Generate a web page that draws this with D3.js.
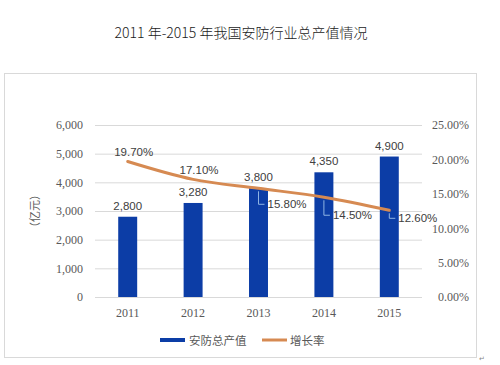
<!DOCTYPE html>
<html><head><meta charset="utf-8">
<script src="https://cdn.jsdelivr.net/npm/d3@7"></script>
<style>body{margin:0;background:#fff}svg{display:block}</style>
</head><body>
<svg id="c" width="500" height="365"></svg>
<script>
const years = ["2011","2012","2013","2014","2015"];
const output = [2800, 3280, 3800, 4350, 4900];
const growth = [19.7, 17.1, 15.8, 14.5, 12.6];
const leftTicks = [0,1000,2000,3000,4000,5000,6000];
const rightTicks = [0,5,10,15,20,25];
const title = "2011 年-2015 年我国安防行业总产值情况";
const seriesNames = ["安防总产值","增长率"];
const yTitle = "（亿元）";

const svg = d3.select("#c");
const barColor = "#0c3da6", lineColor = "#d68a52";
const serif = "'Liberation Serif','Times New Roman',serif";
const sans = "'Liberation Sans',Arial,'Noto Sans CJK SC',sans-serif";

svg.append("text").attr("x",241).attr("y",38).attr("text-anchor","middle")
  .attr("font-family","'Noto Sans CJK SC',sans-serif").attr("font-size",14).attr("font-weight",300).attr("fill","#1a1a1a").text(title);

svg.append("rect").attr("x",4.5).attr("y",73.5).attr("width",472).attr("height",284)
  .attr("fill","none").attr("stroke","#d9d9d9");

const x = d3.scaleBand().domain(years).range([95,422]).paddingInner(0.71).paddingOuter(0.355);
const xc = d => x(d) + x.bandwidth()/2;
const yL = d3.scaleLinear().domain([0,6000]).range([297,125]);
const yR = d3.scaleLinear().domain([0,25]).range([297,125]);

// grid
svg.append("g").selectAll("line").data(leftTicks).join("line")
  .attr("x1",95).attr("x2",422).attr("y1",d=>yL(d)+0.5).attr("y2",d=>yL(d)+0.5)
  .attr("stroke","#d9d9d9").attr("stroke-width",1);

// left axis
const gl = svg.append("g").attr("transform","translate(83,0)")
  .call(d3.axisLeft(yL).tickValues(leftTicks).tickSize(0).tickPadding(0).tickFormat(d3.format(",")));
gl.select(".domain").remove();
gl.selectAll("text").attr("font-family",serif).attr("font-size",12).attr("fill","#595959");

// right axis
const gr = svg.append("g").attr("transform","translate(469,0)")
  .call(d3.axisLeft(yR).tickValues(rightTicks).tickSize(0).tickPadding(0).tickFormat(d=>d.toFixed(2)+"%"));
gr.select(".domain").remove();
gr.selectAll("text").attr("font-family",serif).attr("font-size",12).attr("fill","#595959");

// x axis
const gx = svg.append("g").attr("transform","translate(0,305)")
  .call(d3.axisBottom(x).tickSize(0).tickPadding(3));
gx.select(".domain").remove();
gx.selectAll("text").attr("font-family",serif).attr("font-size",12).attr("fill","#595959");

// y title
svg.append("text").attr("transform","translate(39,211) rotate(-90)").attr("text-anchor","middle")
  .attr("font-family","'Noto Sans CJK SC',sans-serif").attr("font-size",11).attr("fill","#595959").text(yTitle);

// bars
svg.append("g").selectAll("rect").data(years).join("rect")
  .attr("x",d=>x(d)).attr("width",x.bandwidth())
  .attr("y",(d,i)=>yL(output[i])).attr("height",(d,i)=>yL(0)-yL(output[i]))
  .attr("fill",barColor);

// bar labels
svg.append("g").selectAll("text").data(years).join("text")
  .attr("x",d=>xc(d)).attr("y",(d,i)=>yL(output[i])-7).attr("text-anchor","middle")
  .attr("font-family",sans).attr("font-size",11.5).attr("fill","#404040")
  .text((d,i)=>d3.format(",")(output[i]));

// line
const line = d3.line().x((d,i)=>xc(years[i])).y(d=>yR(d)).curve(d3.curveCatmullRom.alpha(0));
svg.append("path").datum(growth).attr("d",line).attr("fill","none")
  .attr("stroke",lineColor).attr("stroke-width",3).attr("stroke-linecap","round");

// line labels
growth.forEach((g,i)=>{
  const px = xc(years[i]), py = yR(g);
  const t = g.toFixed(2)+"%";
  if (i < 2) {
    svg.append("text").attr("x",px+6).attr("y",py-5.5).attr("text-anchor","middle")
      .attr("font-family",sans).attr("font-size",11.5).attr("fill","#404040").text(t);
  } else {
    const ly = py + (i===4 ? 8 : (i===3 ? 18 : 16));
    svg.append("path").attr("d",`M${px},${py+3}L${px},${ly}L${px+6},${ly}`)
      .attr("fill","none").attr("stroke","#8fb4e3").attr("stroke-width",1);
    svg.append("text").attr("x",px+9).attr("y",ly+4).attr("font-family",sans)
      .attr("font-size",11.5).attr("fill","#404040").text(t);
  }
});

// legend
const lg = svg.append("g");
lg.append("rect").attr("x",160).attr("y",338).attr("width",25).attr("height",4).attr("fill",barColor);
lg.append("text").attr("x",189).attr("y",345).attr("font-family","'Noto Sans CJK SC',sans-serif")
  .attr("font-size",11.5).attr("fill","#595959").text(seriesNames[0]);
lg.append("line").attr("x1",262).attr("x2",287).attr("y1",340).attr("y2",340)
  .attr("stroke",lineColor).attr("stroke-width",3);
lg.append("text").attr("x",290).attr("y",345).attr("font-family","'Noto Sans CJK SC',sans-serif")
  .attr("font-size",11.5).attr("fill","#595959").text(seriesNames[1]);

svg.append("text").attr("x",479).attr("y",361).attr("font-family",sans).attr("font-size",7).attr("fill","#888").text("↵");
</script>
</body></html>
